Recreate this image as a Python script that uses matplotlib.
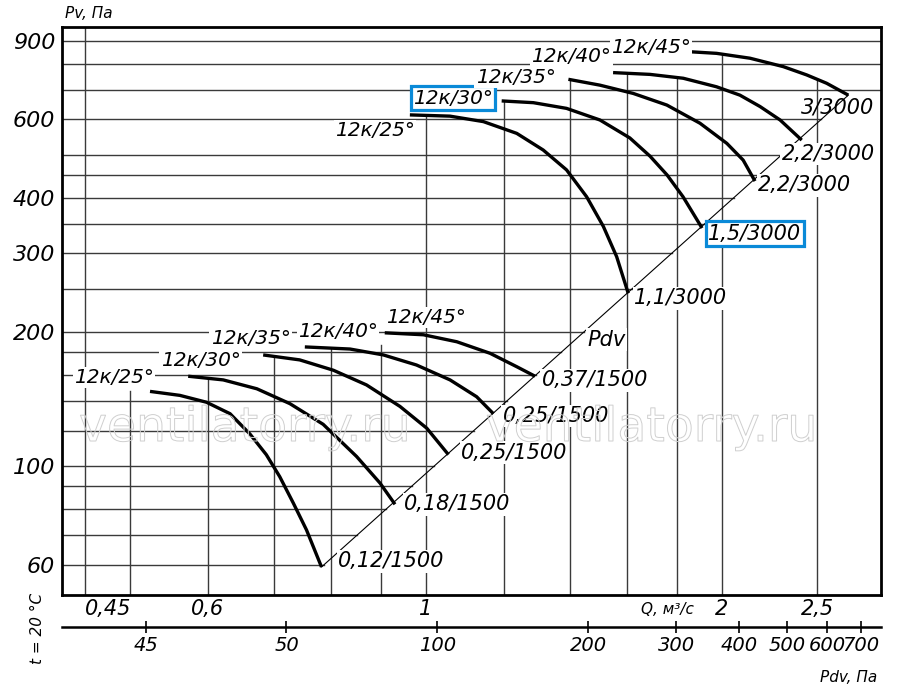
import numpy as np
import matplotlib
matplotlib.use('Agg')
import matplotlib.pyplot as plt
import matplotlib.patheffects as pe
from matplotlib.ticker import NullLocator

plt.rcParams['font.family'] = ['DejaVu Sans']
plt.rcParams['font.style'] = 'italic'

# Характеристики, 3000 об/мин (Q, м3/с ; Pv, Па)
q_25_3000 = [0.963, 1.058, 1.144, 1.237, 1.316, 1.390, 1.457, 1.515, 1.563, 1.606]
p_25_3000 = [614, 610, 593, 558, 512, 462, 402, 345, 295, 244]
q_30_3000 = [1.194, 1.286, 1.390, 1.503, 1.612, 1.690, 1.759, 1.826, 1.909]
p_30_3000 = [660, 654, 635, 598, 545, 496, 450, 402, 342]
q_35_3000 = [1.396, 1.503, 1.625, 1.758, 1.900, 2.023, 2.102, 2.161]
p_35_3000 = [738, 716, 686, 646, 588, 530, 486, 436]
q_40_3000 = [1.550, 1.690, 1.827, 1.975, 2.086, 2.187, 2.292, 2.411]
p_40_3000 = [764, 757, 742, 710, 680, 641, 598, 539]
q_45_3000 = [1.856, 1.975, 2.136, 2.309, 2.439, 2.556, 2.689]
p_45_3000 = [851, 844, 823, 788, 755, 723, 680]

# Характеристики, 1500 об/мин
q_25_1500 = [0.524, 0.562, 0.598, 0.632, 0.662, 0.688, 0.710, 0.733, 0.756, 0.783]
p_25_1500 = [147, 144, 139, 131, 118, 106, 94.6, 82.5, 71.8, 59.3]
q_30_1500 = [0.573, 0.622, 0.673, 0.727, 0.786, 0.850, 0.898, 0.930]
p_30_1500 = [159, 156, 149, 138, 124, 105, 91.5, 82]
q_35_1500 = [0.683, 0.744, 0.805, 0.870, 0.941, 1.002, 1.054]
p_35_1500 = [177.5, 173, 164, 152, 136, 121.5, 106]
q_40_1500 = [0.753, 0.837, 0.905, 0.978, 1.058, 1.126, 1.171]
p_40_1500 = [185, 183, 177.5, 168.5, 156, 143, 131]
q_45_1500 = [0.908, 0.994, 1.075, 1.162, 1.237, 1.291]
p_45_1500 = [199, 197, 190, 179, 167, 159]

names = ['12к/25°', '12к/30°', '12к/35°', '12к/40°', '12к/45°']
motors_3000 = ['1,1/3000', '1,5/3000', '2,2/3000', '2,2/3000', '3/3000']
motors_1500 = ['0,12/1500', '0,18/1500', '0,25/1500', '0,25/1500', '0,37/1500']

# линия Pdv
diag_q = [0.783, 2.689]
diag_p = [59.3, 680]

p_grid = [60, 70, 80, 90, 100, 120, 140, 160, 180, 200, 250, 300, 350, 400, 450,
          500, 600, 700, 800, 900]
p_ticks = [60, 100, 200, 300, 400, 600, 900]
q_grid = [0.45, 0.5, 0.6, 0.7, 0.8, 0.9, 1, 1.2, 1.4, 1.6, 1.8, 2, 2.5]
q_ticks = [0.45, 0.6, 1, 2, 2.5]
q_labels = ['0,45', '0,6', '1', '2', '2,5']
pdv_ticks = [26.2, 50, 100, 200, 300, 400, 500, 600, 700]
pdv_labels = ['45', '50', '100', '200', '300', '400', '500', '600', '700']

curves_3000 = [(q_25_3000, p_25_3000), (q_30_3000, p_30_3000), (q_35_3000, p_35_3000),
               (q_40_3000, p_40_3000), (q_45_3000, p_45_3000)]
curves_1500 = [(q_25_1500, p_25_1500), (q_30_1500, p_30_1500), (q_35_1500, p_35_1500),
               (q_40_1500, p_40_1500), (q_45_1500, p_45_1500)]

QMIN, QMAX = 0.4264, 2.903
PMIN, PMAX = 51.3, 968.5

fig = plt.figure(figsize=(9, 6.89), dpi=100)
ax = fig.add_axes([0.0689, 0.1364, 0.91, 0.8248])
ax.set_xscale('log')
ax.set_yscale('log')
ax.set_xlim(QMIN, QMAX)
ax.set_ylim(PMIN, PMAX)

grid_kw = dict(color='#3a3a3a', lw=1.0, zorder=1)

# горизонтальные линии сетки - до линии Pdv
lq = np.log10(diag_q)
lp = np.log10(diag_p)
for p in p_grid:
    if p <= diag_p[-1]:
        q_end = 10 ** np.interp(np.log10(p), lp, lq)
    else:
        q_end = QMAX
    ax.plot([QMIN, q_end], [p, p], **grid_kw)

# вертикальные линии сетки - до верхней кривой
all_curves = curves_3000 + curves_1500
top_override = {0.5: 147, 0.9: 187}
for q in q_grid:
    tops = [10 ** np.interp(np.log10(q), np.log10(cq), np.log10(cp))
            for cq, cp in all_curves if cq[0] <= q <= cq[-1]]
    if q in top_override:
        top = top_override[q]
    elif tops:
        top = max(tops)
    else:
        top = PMAX
    ax.plot([q, q], [PMIN, top], **grid_kw)

ax.plot(diag_q, diag_p, color='black', lw=0.8, zorder=2)

for cq, cp in all_curves:
    ax.plot(cq, cp, color='black', lw=2.4, zorder=3, solid_capstyle='butt',
            solid_joinstyle='round')

white = dict(boxstyle='square,pad=0.06', fc='white', ec='none')
blue = dict(boxstyle='square,pad=0.12', fc='white', ec='#0a8ad8', lw=2.3)

# подписи кривых
name_off_3000 = [(-25, -11.5), (-35, 1.8), (-38, 1.5), (-30, 11.5), (-28, 3)]
name_off_1500 = [(-26, 10), (9, 11), (-9, 12), (24, 11), (30, 11)]
end_off_3000 = [(38, -3.6), (38, -4), (36, -3), (19, -10), (-8, -9)]
end_off_1500 = [(50, 4), (45, 0), (47.5, 1.5), (45, -1.5), (43, -3)]

for i, (cq, cp) in enumerate(curves_3000):
    box = blue if i == 1 else white
    ax.annotate(names[i], (cq[0], cp[0]), xytext=name_off_3000[i], textcoords='offset points',
                ha='center', va='center', fontsize=14.5, bbox=box, zorder=4)
    ax.annotate(motors_3000[i], (cq[-1], cp[-1]), xytext=end_off_3000[i], textcoords='offset points',
                ha='center', va='center', fontsize=15, bbox=(blue if i == 1 else (None if i == 4 else white)),
                zorder=4)

for i, (cq, cp) in enumerate(curves_1500):
    ax.annotate(names[i], (cq[0], cp[0]), xytext=name_off_1500[i], textcoords='offset points',
                ha='center', va='center', fontsize=14.5, bbox=white, zorder=4)
    ax.annotate(motors_1500[i], (cq[-1], cp[-1]), xytext=end_off_1500[i], textcoords='offset points',
                ha='center', va='center', fontsize=15, bbox=white, zorder=4)

ax.text(1.525, 192, 'Pdv', ha='center', va='center', fontsize=15, bbox=white, zorder=4)

# водяной знак
for xw in (0.2234, 0.720):
    ax.text(xw, 0.293, 'ventilatorry.ru', transform=ax.transAxes, ha='center', va='center',
            fontsize=34, fontstyle='normal', color=(1, 1, 1, 0), zorder=5,
            path_effects=[pe.Stroke(linewidth=0.7, foreground='#cfcfcf')])

# оси
for s in ax.spines.values():
    s.set_linewidth(2.0)
ax.xaxis.set_minor_locator(NullLocator())
ax.yaxis.set_minor_locator(NullLocator())
ax.set_yticks(p_ticks)
ax.set_yticklabels([str(v) for v in p_ticks], fontsize=16)
ax.set_xticks(q_ticks)
ax.set_xticklabels(q_labels, fontsize=15)
ax.get_xticklabels()[0].set_horizontalalignment('left')
ax.tick_params(axis='both', length=0)
ax.tick_params(axis='y', pad=5)
ax.tick_params(axis='x', pad=3)
ax.text(1.759, -0.025, 'Q, м³/с', transform=ax.get_xaxis_transform(), ha='center', va='center',
        fontsize=11)

# шкала Pdv
ax2 = fig.add_axes([0.0689, 0.0900, 0.91, 0.0001])
ax2.set_xscale('log')
ax2.set_xlim(17.82, 768.5)
ax2.set_yticks([])
for k in ('top', 'left', 'right'):
    ax2.spines[k].set_visible(False)
ax2.spines['bottom'].set_linewidth(1.8)
ax2.xaxis.set_minor_locator(NullLocator())
ax2.set_xticks(pdv_ticks)
ax2.set_xticklabels(pdv_labels, fontsize=14)
ax2.tick_params(axis='x', direction='inout', length=9, width=1.2, pad=2)
ax2.patch.set_visible(False)

fig.text(65 / 900, 1 - 14 / 689, 'Pv, Па', ha='left', va='center', fontsize=11)
fig.text(877 / 900, 1 - 677 / 689, 'Pdv, Па', ha='right', va='center', fontsize=11)
fig.text(38 / 900, 1 - 628 / 689, 't = 20 °C', ha='center', va='center', fontsize=11, rotation=90)

fig.savefig('out.png', dpi=100)
